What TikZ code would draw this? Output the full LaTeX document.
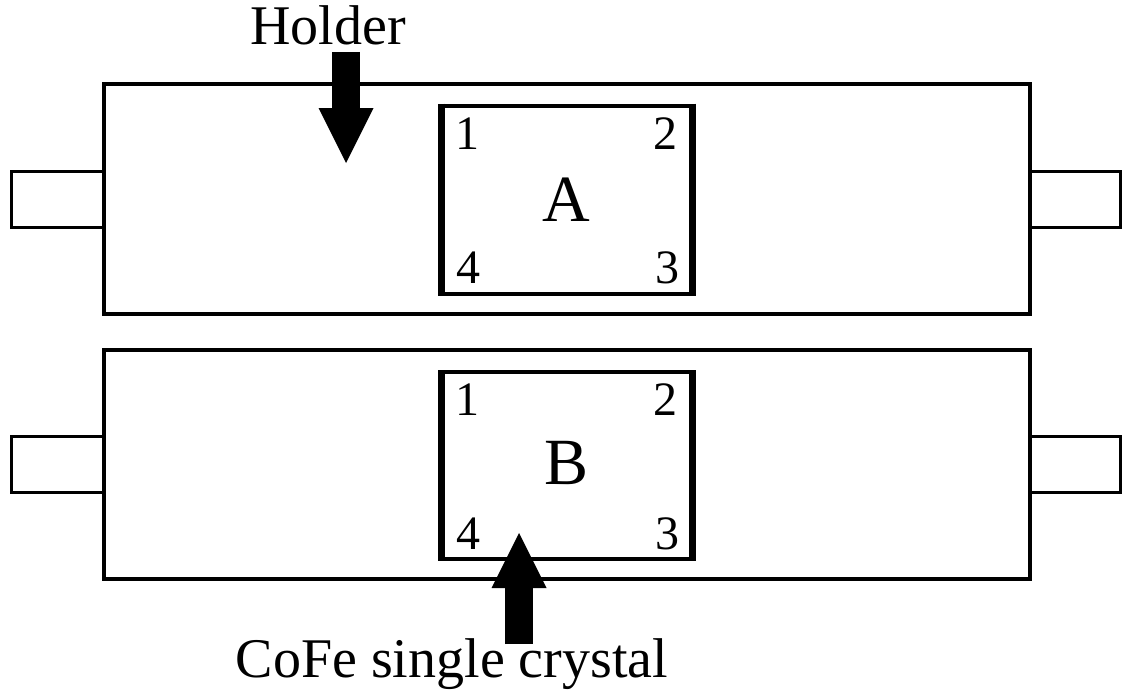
\documentclass[tikz,border=0pt]{standalone}
\usepackage{fontspec}
\setmainfont{Liberation Serif}
\usetikzlibrary{arrows.meta}

\tikzset{
    holderbox/.style={draw, line width=3.5pt, outer sep=0pt, inner sep=0pt},
    tabbox/.style={draw, line width=3pt, outer sep=0pt, inner sep=0pt,
        minimum height=56pt},
    crystalbox/.style={draw, line width=4pt, outer sep=0pt, inner sep=0pt,
        minimum width=251pt, minimum height=188pt},
    crystalside/.style={line width=7pt, shorten <=-2pt, shorten >=-2pt},
    corner/.style={font=\fontsize{48}{52}\selectfont, inner sep=0pt},
    bigletter/.style={font=\fontsize{66}{70}\selectfont, inner sep=0pt},
    caption/.style={font=\fontsize{56}{60}\selectfont, inner sep=0pt, anchor=base},
    fatarrow/.style={line width=28pt,
        -{Triangle[length=55pt, width=55pt, line width=0pt]}},
}

\begin{document}
\begin{tikzpicture}[x=1pt, y=-1pt]
    \useasboundingbox (0,0) rectangle (1124,693);

    % Holder A
    \node[holderbox, minimum width=926pt, minimum height=230pt] (holdA) at (567,199) {};
    \node[tabbox, minimum width=93pt, anchor=east] (tabAl) at (holdA.west) {};
    \node[tabbox, minimum width=90pt, anchor=west] (tabAr) at (holdA.east) {};
    \node[crystalbox] (crysA) at (566.5,199.5) {};
    \draw[crystalside] (crysA.north west) -- (crysA.south west);
    \draw[crystalside] (crysA.north east) -- (crysA.south east);
    \node[bigletter] (labA) at (crysA.center) {A};
    \node[corner] (a1) at ([shift={(26.5,28)}]crysA.north west) {1};
    \node[corner] (a2) at ([shift={(-27,28)}]crysA.north east) {2};
    \node[corner] (a3) at ([shift={(-25,-25.5)}]crysA.south east) {3};
    \node[corner] (a4) at ([shift={(27,-25.5)}]crysA.south west) {4};

    % Holder B
    \node[holderbox, minimum width=926pt, minimum height=229pt] (holdB) at (567,464.5) {};
    \node[tabbox, minimum width=93pt, anchor=east] (tabBl) at (holdB.west) {};
    \node[tabbox, minimum width=90pt, anchor=west] (tabBr) at (holdB.east) {};
    \node[crystalbox, minimum height=187pt] (crysB) at (566.5,465.5) {};
    \draw[crystalside] (crysB.north west) -- (crysB.south west);
    \draw[crystalside] (crysB.north east) -- (crysB.south east);
    \node[bigletter] (labB) at ([yshift=3pt]crysB.center) {B};
    \node[corner] (b1) at ([shift={(26.5,28)}]crysB.north west) {1};
    \node[corner] (b2) at ([shift={(-27,28)}]crysB.north east) {2};
    \node[corner] (b3) at ([shift={(-25,-25.5)}]crysB.south east) {3};
    \node[corner] (b4) at ([shift={(27,-25.5)}]crysB.south west) {4};

    % labels and arrows
    \node[caption] (holdtxt) at (328,45) {Holder};
    \coordinate (holdtail) at (346,52);
    \coordinate (holdtip) at (346,163);
    \draw[fatarrow] (holdtail) -- (holdtip);

    \node[caption] (cofetxt) at (452,677) {CoFe single crystal};
    \coordinate (cofetail) at (519,644);
    \coordinate (cofetip) at (519,533);
    \draw[fatarrow] (cofetail) -- (cofetip);
\end{tikzpicture}
\end{document}
